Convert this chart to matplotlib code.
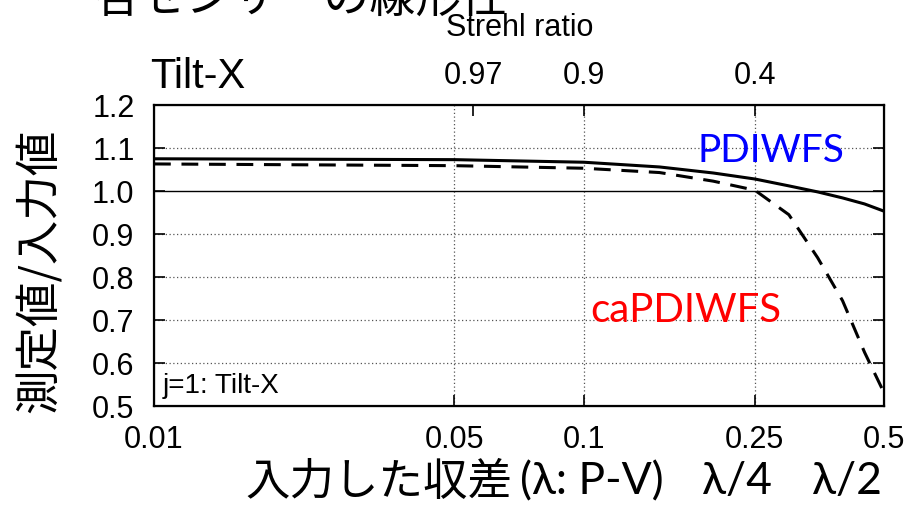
import numpy as np
import matplotlib.pyplot as plt

# input aberration (lambda, P-V)
aberr = [0.01, 0.05, 0.1, 0.15, 0.2, 0.25, 0.3, 0.35, 0.4, 0.45, 0.5]
pdiwfs = [1.075, 1.073, 1.067, 1.056, 1.042, 1.028, 1.012, 0.998, 0.984, 0.970, 0.953]
capdiwfs = [1.063, 1.059, 1.053, 1.043, 1.023, 1.002, 0.945, 0.845, 0.745, 0.625, 0.530]

xticks = [0.01, 0.05, 0.1, 0.25, 0.5]
xtick_labels = ['0.01', '0.05', '0.1', '0.25', '0.5']
yticks = [0.5, 0.6, 0.7, 0.8, 0.9, 1.0, 1.1, 1.2]
strehl_pos = [0.0553, 0.1, 0.25]
strehl_labels = ['0.97', '0.9', '0.4']

plt.rcParams['font.family'] = ['Liberation Sans', 'DejaVu Sans']
cjk = ['Noto Sans CJK JP', 'DejaVu Sans']
cal = ['Lato', 'DejaVu Sans']

fig = plt.figure(figsize=(9.22, 5.05), dpi=100)
ax = fig.add_axes([0.167, 0.196, 0.792, 0.596])

ax.plot(aberr, pdiwfs, color='black', lw=2.2)
ax.plot(aberr, capdiwfs, color='black', lw=2.2, dashes=(5.5, 3.5))

ax.set_xscale('log')
ax.set_xlim(0.01, 0.5)
ax.set_ylim(0.5, 1.2)
ax.set_xticks(xticks)
ax.set_xticklabels(xtick_labels)
ax.minorticks_off()
ax.set_yticks(yticks)
ax.set_yticklabels([f'{v:.1f}' for v in yticks])
ax.tick_params(direction='in', length=8, width=1.2, labelsize=22, pad=14,
               left=True, right=True)

# grid
for v in [0.6, 0.7, 0.8, 0.9, 1.1]:
    ax.axhline(v, color='#555555', lw=0.9, ls=(0, (1, 2)), zorder=0)
for v in [0.05, 0.1, 0.25]:
    ax.axvline(v, color='#555555', lw=0.9, ls=(0, (1, 2)), zorder=0)
ax.axhline(1.0, color='black', lw=1.0, zorder=0)

for s in ax.spines.values():
    s.set_linewidth(1.6)

# top axis: Strehl ratio
ax2 = ax.twiny()
ax2.set_xscale('log')
ax2.set_xlim(0.01, 0.5)
ax2.set_xticks(strehl_pos)
ax2.set_xticklabels(strehl_labels)
ax2.minorticks_off()
ax2.tick_params(direction='in', length=8, width=1.2, labelsize=22, pad=10)

ax.text(0.012, 0.043, 'j=1: Tilt-X', transform=ax.transAxes, fontsize=20)
ax.text(0.744, 0.811, 'PDIWFS', transform=ax.transAxes, fontsize=28,
        color='#0000ff', family=cal)
ax.text(0.597, 0.279, 'caPDIWFS', transform=ax.transAxes, fontsize=29,
        color='#ff0000', family=cal)

fig.text(0.103, 1 - 12 / 505, '各センサーの線形性', fontsize=33, family=cjk,
         va='baseline')
fig.text(520 / 922, 1 - 28 / 505, 'Strehl ratio', fontsize=22,
         ha='center', va='center')
fig.text(150 / 922, 1 - 88 / 505, 'Tilt-X', fontsize=30, va='baseline')

fig.text(40 / 922, 1 - 271 / 505, '測定値/入力値', fontsize=32, family=cjk,
         rotation=90, ha='center', va='center')
fig.text(245 / 922, 1 - 482 / 505, '入力した収差', fontsize=32, family=cjk,
         va='center')
fig.text(520 / 922, 1 - 482 / 505, '(λ: P-V)', fontsize=32, family=cal,
         va='center')
fig.text(737 / 922, 1 - 482 / 505, 'λ/4', fontsize=32, family=cal,
         ha='center', va='center')
fig.text(847 / 922, 1 - 482 / 505, 'λ/2', fontsize=32, family=cal,
         ha='center', va='center')

fig.savefig('out.png', dpi=100)
